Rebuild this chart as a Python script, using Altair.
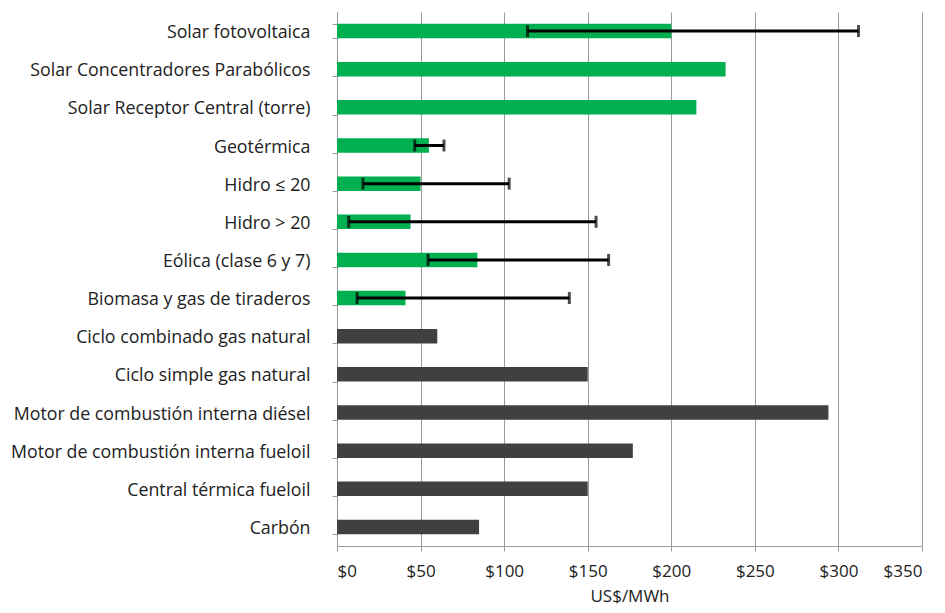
import altair as alt
import pandas as pd

categories = [
    "Solar fotovoltaica",
    "Solar Concentradores Parabólicos",
    "Solar Receptor Central (torre)",
    "Geotérmica",
    "Hidro ≤ 20",
    "Hidro > 20",
    "Eólica (clase 6 y 7)",
    "Biomasa y gas de tiraderos",
    "Ciclo combinado gas natural",
    "Ciclo simple gas natural",
    "Motor de combustión interna diésel",
    "Motor de combustión interna fueloil",
    "Central térmica fueloil",
    "Carbón",
]
values = [200, 232.5, 215, 55, 50, 44, 84, 41, 60, 150, 294, 177, 150, 85]
groups = ["renovable"] * 8 + ["convencional"] * 6
err_low = [114, None, None, 46.5, 15.5, 7, 54.5, 12, None, None, None, None, None, None]
err_high = [312, None, None, 64, 103, 155, 162.5, 139, None, None, None, None, None, None]

df = pd.DataFrame({"cat": categories, "val": values, "grp": groups,
                   "lo": err_low, "hi": err_high})
df_err = df.dropna(subset=["lo"])

FONT = "Open Sans"
FS = 17

y_enc = alt.Y("cat:N", sort=categories, title=None,
              scale=alt.Scale(paddingInner=0.62, paddingOuter=0.31),
              axis=alt.Axis(tickBand="extent", labelFontSize=17.8, labelFont=FONT,
                            labelColor="#222", labelPadding=22, tickSize=5,
                            tickColor="#999", domainColor="#999", labelLimit=400,
                            labelBaseline="middle", labelOffset=1.5))
x_scale = alt.Scale(domain=[0, 350], nice=False)

bars = alt.Chart(df).mark_bar().encode(
    x=alt.X("val:Q", scale=x_scale, title="US$/MWh",
            axis=alt.Axis(values=[0, 50, 100, 150, 200, 250, 300, 350],
                          labelExpr="'$' + datum.value",
                          labelFontSize=FS, labelFont=FONT, labelColor="#222",
                          titleFontSize=FS, titleFont=FONT, titleColor="#222",
                          titleFontWeight="normal", titlePadding=9,
                          grid=True, gridColor="#999999", gridWidth=1,
                          tickColor="#999", domainColor="#999", tickSize=5,
                          labelPadding=12)),
    y=y_enc,
    color=alt.Color("grp:N", scale=alt.Scale(domain=["renovable", "convencional"],
                                             range=["#00B050", "#404040"]), legend=None),
)

rules = alt.Chart(df_err).mark_rule(color="black", strokeWidth=3).encode(
    x=alt.X("lo:Q", scale=x_scale), x2="hi:Q", y=alt.Y("cat:N", sort=categories))
caps_lo = alt.Chart(df_err).mark_tick(color="black", thickness=3, size=12).encode(
    x=alt.X("lo:Q", scale=x_scale), y=alt.Y("cat:N", sort=categories))
caps_hi = alt.Chart(df_err).mark_tick(color="black", thickness=3, size=12).encode(
    x=alt.X("hi:Q", scale=x_scale), y=alt.Y("cat:N", sort=categories))

chart = alt.layer(bars, rules, caps_lo, caps_hi).properties(
    width=585, height=534,
    autosize=alt.AutoSizeParams(type="none"),
    padding={"left": 329, "top": 4, "right": 10, "bottom": 62},
).configure_view(stroke=None)

chart.save("out.html", embed_options={"renderer": "svg", "actions": False})
